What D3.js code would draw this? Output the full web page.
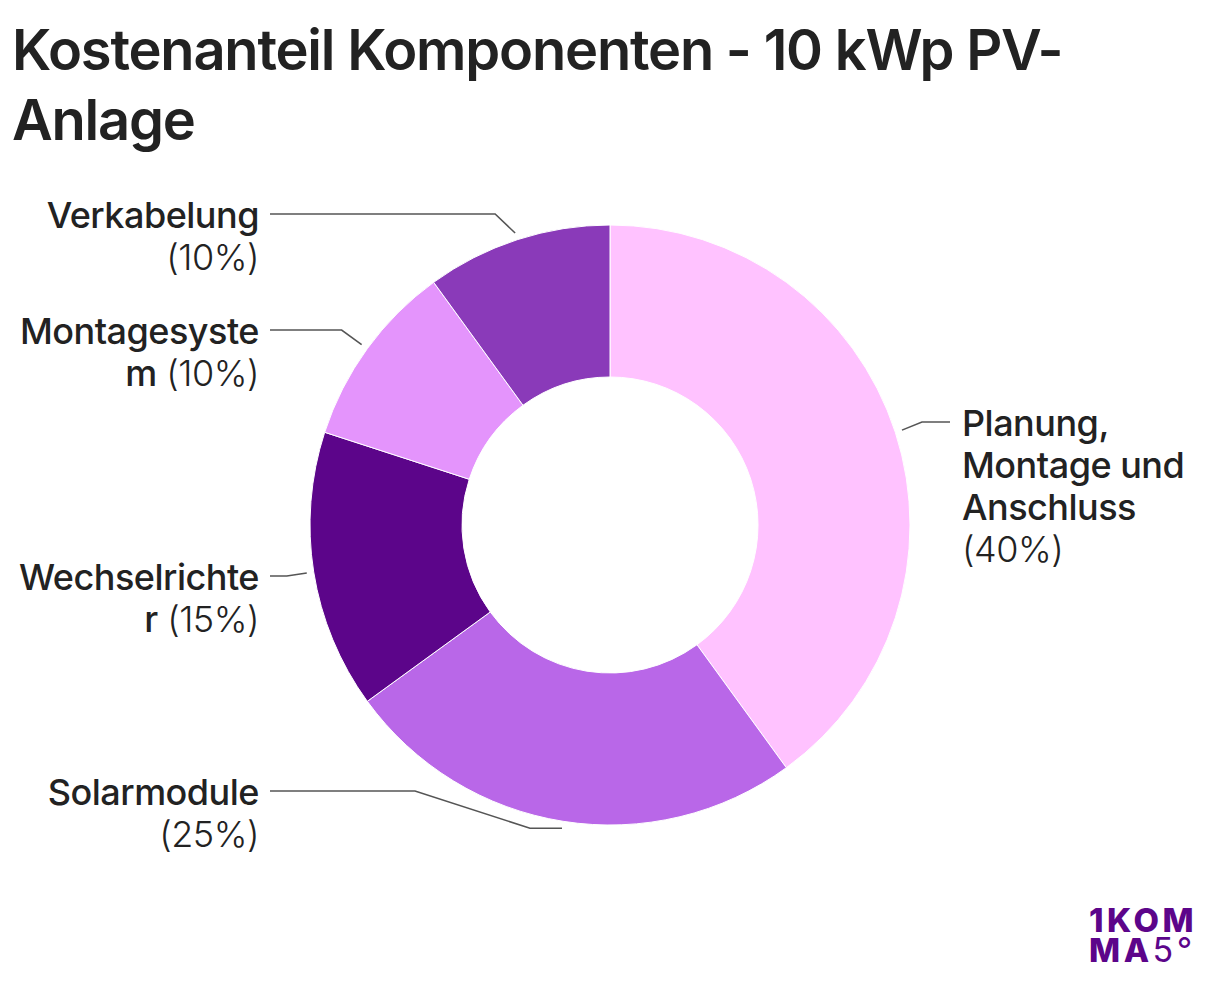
<!DOCTYPE html>
<html><head><meta charset="utf-8">
<script src="https://cdn.jsdelivr.net/npm/d3@7"></script>
<style>
html,body{margin:0;padding:0;background:#fff;}
svg{display:block;font-family:Inter,"Noto Sans",sans-serif;}
</style></head><body>
<svg id="c" width="1220" height="984"></svg>
<script>
const categories = ["Planung, Montage und Anschluss","Solarmodule","Wechselrichter","Montagesystem","Verkabelung"];
const values = [40,25,15,10,10];
const colors = ["#FFC2FF","#B967E8","#5C058A","#E494FC","#8A3AB9"];
// label text lines (as wrapped in the reference): [bold name part, percentage part]
const labelLines = [
  [["Planung,",""],["Montage und",""],["Anschluss",""],["","(40%)"]],
  [["Solarmodule",""],["","(25%)"]],
  [["Wechselrichte",""],["r"," (15%)"]],
  [["Montagesyste",""],["m"," (10%)"]],
  [["Verkabelung",""],["","(10%)"]]
];
// layout: label line y, side
const layout = [
  {y:422, side:"right"},
  {y:791, side:"left", via:[-32,0], kneeX:415},
  {y:576, side:"left"},
  {y:330, side:"left"},
  {y:214, side:"left"}
];

const svg = d3.select("#c");
const cx = 610, cy = 525, R = 300, r0 = 148;

["Kostenanteil Komponenten - 10 kWp PV-","Anlage"].forEach((s,k)=>{
  svg.append("text").attr("x",12).attr("y",70+70*k)
    .attr("font-size",56).attr("font-weight",600).attr("fill","#222")
    .attr("letter-spacing","-1.2").text(s);
});

const pie = d3.pie().sort(null).value(d=>d)(values);
const arc = d3.arc().innerRadius(r0).outerRadius(R);
const g = svg.append("g").attr("transform",`translate(${cx},${cy})`);
g.selectAll("path.s").data(pie).join("path").attr("class","s")
  .attr("d",arc).attr("fill",(d,i)=>colors[i])
  .attr("stroke","#fff").attr("stroke-width",1);

const rs = 307;
pie.forEach((d,i)=>{
  const a = (d.startAngle+d.endAngle)/2;
  const p0 = [cx + rs*Math.sin(a), cy - rs*Math.cos(a)];
  const L = layout[i];
  const pts = [p0];
  if (L.via) {
    pts.push([p0[0]+L.via[0], p0[1]+L.via[1]]);
    pts.push([L.kneeX, L.y]);
  } else {
    pts.push([p0[0] + (L.side==="left"?-20:20), L.y]);
  }
  const endX = L.side==="left" ? 270 : 950;
  pts.push([endX, L.y]);
  svg.append("path").attr("d", d3.line()(pts)).attr("fill","none")
    .attr("stroke","#555").attr("stroke-width",1.6);

  const tx = L.side==="left" ? 259 : 962;
  const t = svg.append("text").attr("x",tx).attr("y",L.y+14)
    .attr("font-size",36).attr("fill","#222")
    .attr("text-anchor", L.side==="left" ? "end":"start")
    .attr("letter-spacing","-0.5");
  labelLines[i].forEach((ln,k)=>{
    const sp = t.append("tspan").attr("x",tx).attr("dy", k===0?0:42);
    if (ln[0]) sp.append("tspan").attr("font-weight",500).text(ln[0]);
    if (ln[1]) sp.append("tspan").attr("font-weight",300).text(ln[1]);
  });
});
// logo (one text element, two lines)
const lg = svg.append("text").attr("x",1089).attr("y",932).attr("font-size",33)
  .attr("fill","#5C058A").attr("letter-spacing","3.5");
lg.append("tspan").attr("font-weight",800).text("1KOM");
lg.append("tspan").attr("x",1089).attr("dy",30).attr("font-weight",800).text("MA");
lg.append("tspan").attr("font-weight",400).attr("font-size",34).text("5°");
</script>
</body></html>
